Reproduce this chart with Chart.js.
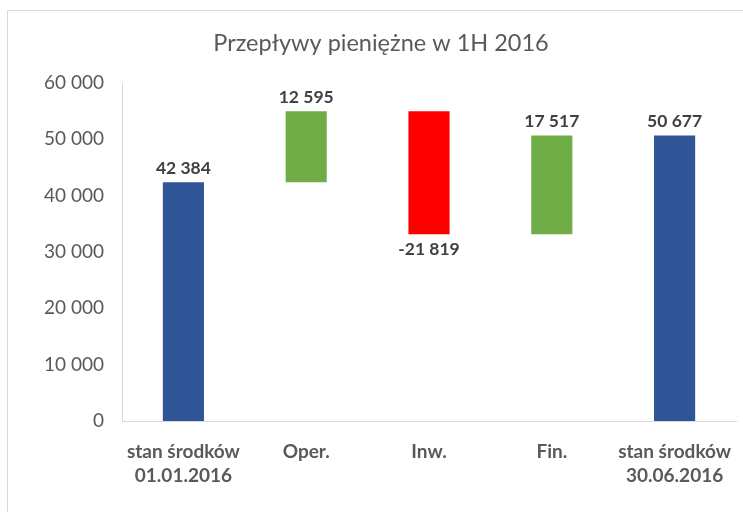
<!DOCTYPE html>
<html>
<head>
<meta charset="utf-8">
<script src="https://cdn.jsdelivr.net/npm/chart.js@4.4.1/dist/chart.umd.min.js"></script>
<style>
  html, body { margin: 0; padding: 0; background: #fff; overflow: hidden; }
  #frame { position: absolute; left: 7px; top: 10px; width: 800px; height: 600px; border: 1px solid #d9d9d9; }
  #chart { position: absolute; left: 0; top: 0; }
</style>
</head>
<body>
<div id="frame"></div>
<canvas id="chart" width="743" height="512"></canvas>
<script>
const title = 'Przepływy pieniężne w 1H 2016';
const categories = [['stan środków', '01.01.2016'], 'Oper.', 'Inw.', 'Fin.', ['stan środków', '30.06.2016']];
const values = [42384, 12595, -21819, 17517, 50677];
const isTotal = [true, false, false, false, true];
const yTicks = [0, 10000, 20000, 30000, 40000, 50000, 60000];

const BLUE = '#2f5597';
const GREEN = '#70ad47';
const RED = '#ff0000';

// build floating ranges for the waterfall
let running = 0;
const ranges = values.map((v, i) => {
  if (isTotal[i]) { running = v; return [0, v]; }
  const from = running;
  running += v;
  return [from, running];
});
const colors = values.map((v, i) => isTotal[i] ? BLUE : (v < 0 ? RED : GREEN));

const fmt = (n) => {
  const s = Math.abs(n).toString().replace(/\B(?=(\d{3})+(?!\d))/g, ' ');
  return (n < 0 ? '-' : '') + s;
};

const titlePlugin = {
  id: 'fixedTitle',
  afterDraw(chart) {
    const { ctx } = chart;
    ctx.save();
    ctx.font = '23.5px Lato';
    ctx.fillStyle = '#595959';
    ctx.textAlign = 'center';
    ctx.textBaseline = 'middle';
    ctx.fillText(title, 381, 43);
    ctx.restore();
  },
};

const valueLabels = {
  id: 'valueLabels',
  afterDatasetsDraw(chart) {
    const { ctx } = chart;
    const meta = chart.getDatasetMeta(0);
    ctx.save();
    ctx.font = 'bold 17.5px Lato';
    ctx.fillStyle = '#404040';
    ctx.textAlign = 'center';
    ctx.textBaseline = 'middle';
    meta.data.forEach((bar, i) => {
      const v = values[i];
      const top = Math.min(bar.y, bar.base);
      const bottom = Math.max(bar.y, bar.base);
      if (v < 0) ctx.fillText(fmt(v), bar.x, bottom + 15);
      else ctx.fillText(fmt(v), bar.x, top - 14);
    });
    ctx.restore();
  },
};

new Chart(document.getElementById('chart'), {
  type: 'bar',
  data: {
    labels: categories,
    datasets: [{
      data: ranges,
      backgroundColor: colors,
      borderSkipped: false,
      borderWidth: 0,
      categoryPercentage: 1,
      barPercentage: 0.335,
    }],
  },
  plugins: [titlePlugin, valueLabels],
  options: {
    responsive: false,
    animation: false,
    devicePixelRatio: 1,
    layout: { padding: { top: 83, right: 7, left: 0, bottom: 0 } },
    plugins: { legend: { display: false }, tooltip: { enabled: false }, title: { display: false } },
    scales: {
      y: {
        min: 0,
        max: 60000,
        afterFit(scale) { scale.width = 122; },
        afterBuildTicks(scale) { scale.ticks = yTicks.map((v) => ({ value: v })); },
        grid: { display: false, drawTicks: false },
        border: { display: true, color: '#d9d9d9' },
        ticks: {
          padding: 18,
          color: '#595959',
          font: { family: 'Lato', size: 19 },
          callback: (v) => fmt(v),
        },
      },
      x: {
        afterFit(scale) {
          scale.height = 91;
          scale.paddingLeft = 0;
          scale.paddingRight = 0;
        },
        grid: { display: false, drawTicks: false },
        border: { display: true, color: '#d9d9d9' },
        ticks: {
          padding: 19,
          color: '#595959',
          maxRotation: 0,
          autoSkip: false,
          font: { family: 'Lato', size: 19, weight: 'bold', lineHeight: 1.26 },
        },
      },
    },
  },
});
</script>
</body>
</html>
